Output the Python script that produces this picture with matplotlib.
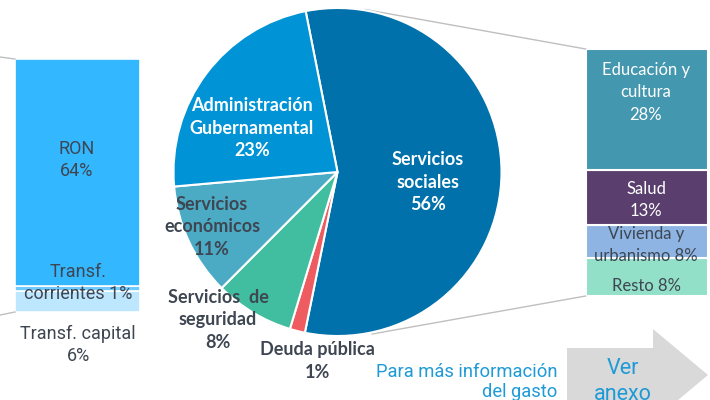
import matplotlib
matplotlib.use("Agg")
import matplotlib.pyplot as plt
from matplotlib.patches import Polygon

# ---------------- data ----------------
pie_categories = ["Servicios\nsociales", "Deuda pública", "Servicios  de\nseguridad",
                  "Servicios\neconómicos", "Administración\nGubernamental"]
pie_values = [56.3, 1.5, 7.8, 11.1, 23.3]
pie_pct_labels = ["56%", "1%", "8%", "11%", "23%"]

left_categories = ["RON", "Transf.\ncorrientes", "Transf. capital"]
left_values = [64, 1.3, 6]
left_pct_labels = ["64%", "1%", "6%"]

right_categories = ["Educación y\ncultura", "Salud", "Vivienda y\nurbanismo", "Resto"]
right_values = [27.5, 12.3, 7.6, 8.6]
right_pct_labels = ["28%", "13%", "8%", "8%"]

# ---------------- styles ----------------
pie_colors = ["#0071AA", "#EE5B60", "#41BEA0", "#4BABC5", "#0093D5"]
left_colors = ["#33B8FF", "#6FCBFF", "#BDE6FF"]
right_colors = ["#4397AE", "#5A3F6E", "#8DB4E2", "#92E0C8"]
DARK = "#3E4652"
BLUE_TXT = "#1E9AD6"
W, H = 710, 400

fig = plt.figure(figsize=(7.1, 4.0), dpi=100)

# left stacked bar
axl = fig.add_axes([15 / W, (H - 312) / H, 125 / W, 253 / H])
bottom = 0
for v, c in zip(left_values[::-1], left_colors[::-1]):
    axl.bar(0, v, bottom=bottom, width=1, color=c, edgecolor="white", linewidth=1.2)
    bottom += v
axl.set_xlim(-0.5, 0.5)
axl.set_ylim(0, sum(left_values))
axl.axis("off")

# right stacked bar
axr = fig.add_axes([585.7 / W, (H - 296) / H, 122.3 / W, 247 / H])
bottom = 0
for v, c in zip(right_values[::-1], right_colors[::-1]):
    axr.bar(0, v, bottom=bottom, width=1, color=c, edgecolor="white", linewidth=1.5)
    bottom += v
axr.set_xlim(-0.5, 0.5)
axr.set_ylim(0, sum(right_values))
axr.axis("off")

# main (pixel-coordinate) axes on top
ax = fig.add_axes([0, 0, 1, 1])


def Y(y):
    return H - y


ax.pie(pie_values, colors=pie_colors, startangle=101.2, counterclock=False,
       center=(337.5, Y(172)), radius=164, frame=True,
       wedgeprops=dict(edgecolor="white", linewidth=1.5))
ax.set_xlim(0, W)
ax.set_ylim(0, H)
ax.set_aspect("equal")
ax.axis("off")

# connector lines
lc = "#BFBFBF"
ax.plot([365, 585.7], [Y(9.5), Y(49)], color=lc, lw=1, zorder=0)
ax.plot([372, 585.7], [Y(334), Y(296)], color=lc, lw=1, zorder=0)
ax.plot([0, 15], [Y(57), Y(59)], color=lc, lw=1, zorder=0)
ax.plot([0, 15], [Y(315), Y(312)], color=lc, lw=1, zorder=0)

# pie labels
bold = dict(family="Lato", fontweight="bold", fontsize=13, ha="center", va="center",
            linespacing=1.4)
pie_label_pos = [(428, 182), (317, 361), (218, 320), (212, 227), (252, 128)]
pie_label_colors = ["white", DARK, DARK, DARK, "white"]
for cat, pct, (x, y), c in zip(pie_categories, pie_pct_labels, pie_label_pos, pie_label_colors):
    ax.text(x, Y(y), f"{cat}\n{pct}", color=c, **bold)

reg = dict(family="Roboto", fontsize=13, ha="center", va="center", color=DARK,
           linespacing=1.25)
ax.text(77, Y(160), f"{left_categories[0]}\n{left_pct_labels[0]}", **reg)
ax.text(78, Y(283), f"{left_categories[1]} {left_pct_labels[1]}", **reg)
ax.text(78, Y(345), f"{left_categories[2]}\n{left_pct_labels[2]}", **reg)

rr = dict(family="Lato", fontsize=12, ha="center", va="center", linespacing=1.5)
ax.text(646, Y(92), f"{right_categories[0]}\n{right_pct_labels[0]}", color="white", **rr)
ax.text(646, Y(200), f"{right_categories[1]}\n{right_pct_labels[1]}", color="white", **rr)
ax.text(646, Y(245), f"{right_categories[2]} {right_pct_labels[2]}", color=DARK, **rr)
ax.text(646, Y(286), f"{right_categories[3]} {right_pct_labels[3]}", color=DARK, **rr)

# arrow
arrow = [(567, 348), (653, 348), (653, 329), (708, 375), (653, 421), (653, 402), (567, 402)]
ax.add_patch(Polygon([(x, Y(y)) for x, y in arrow], closed=True, facecolor="#D9D9D9",
                     edgecolor="none", zorder=1))
ax.text(623, Y(368), "Ver", family="Roboto", fontsize=15.5, color=BLUE_TXT,
        ha="center", va="center", zorder=2)
ax.text(623, Y(394), "anexo", family="Roboto", fontsize=15.5, color=BLUE_TXT,
        ha="center", va="center", zorder=2)
ax.text(557, Y(372), "Para más información", family="Roboto", fontsize=13.2,
        color=BLUE_TXT, ha="right", va="center")
ax.text(557, Y(392), "del gasto", family="Roboto", fontsize=13.2,
        color=BLUE_TXT, ha="right", va="center")

fig.savefig("out.png", dpi=100)
